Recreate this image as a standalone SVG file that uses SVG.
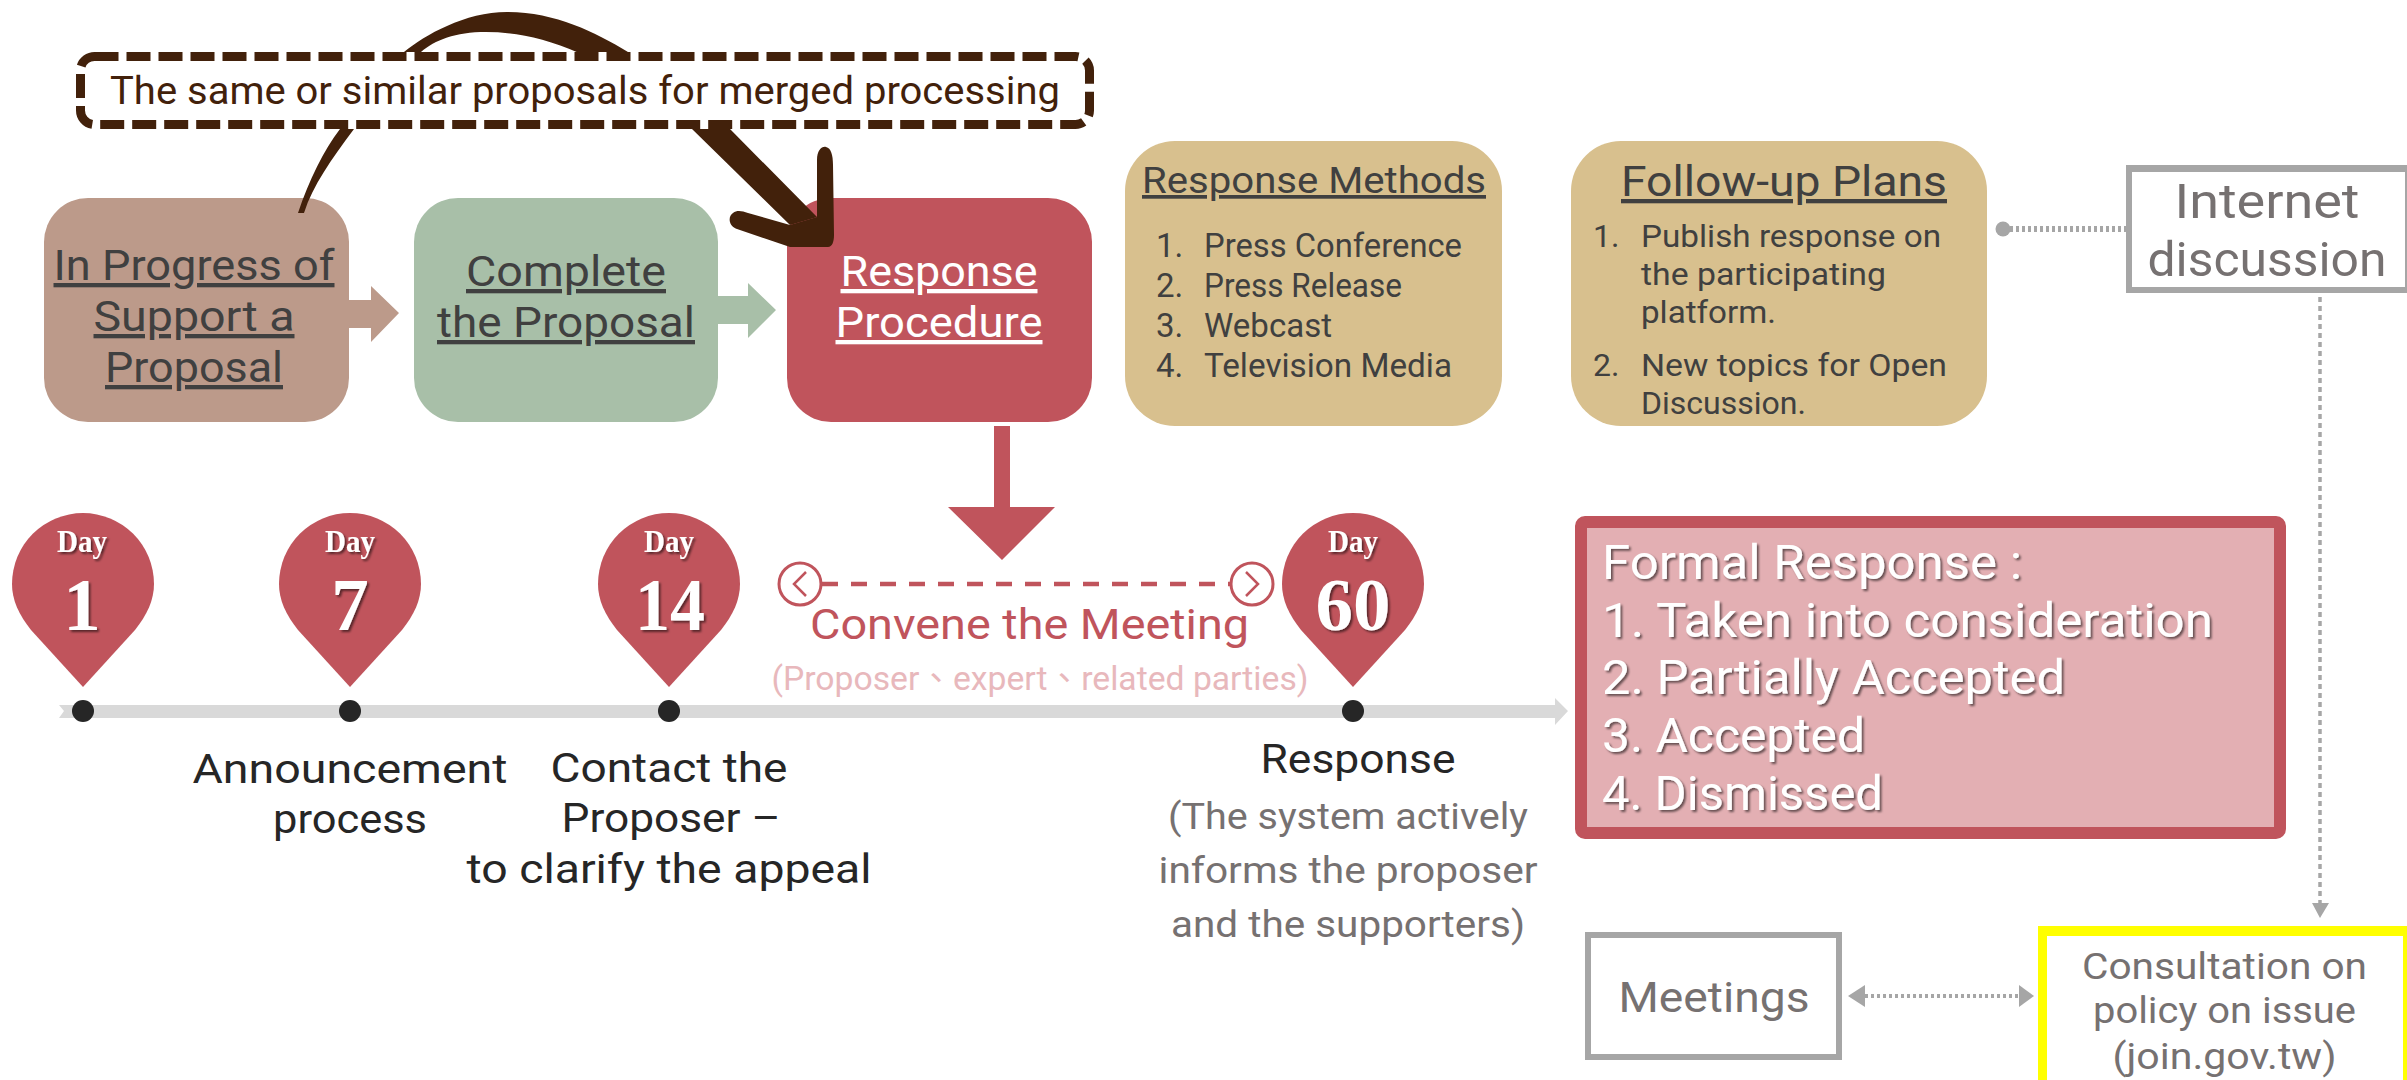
<svg xmlns="http://www.w3.org/2000/svg" width="2407" height="1080" viewBox="0 0 2407 1080">
<style>
text{font-family:Roboto,"Noto Sans CJK TC",sans-serif;}
.c{text-anchor:middle}
.u{text-decoration:underline}
.dk{fill:#404040}
.gr{fill:#767171}
.bk{fill:#262626}
.wh{fill:#fff}
.pin{fill:#c0545c}
.serif{font-family:"Liberation Serif",serif;font-weight:700;fill:#fff;text-anchor:middle;filter:url(#sh)}
.dot{fill:#262626}
.g{fill:#a6a6a6}
.gl{fill:none;stroke:#a6a6a6}
</style>
<defs>
<filter id="sh" x="-20%" y="-20%" width="140%" height="140%"><feDropShadow dx="2" dy="2" stdDeviation="1.2" flood-color="#000" flood-opacity=".55"/></filter>
</defs>
<rect width="2407" height="1080" fill="#fff"/>
<g id="in-progress">
<rect x="44" y="198" width="305" height="224" rx="44" fill="#bc9a8a"/>
<text class="c dk u" x="194" y="280" font-size="43" font-weight="450" textLength="281" lengthAdjust="spacingAndGlyphs">In Progress of</text>
<text class="c dk u" x="194" y="331" font-size="43" font-weight="450" textLength="201" lengthAdjust="spacingAndGlyphs">Support a</text>
<text class="c dk u" x="194" y="382" font-size="43" font-weight="450" textLength="178" lengthAdjust="spacingAndGlyphs">Proposal</text>
</g>
<g id="complete">
<rect x="414" y="198" width="304" height="224" rx="44" fill="#a8bfa8"/>
<text class="c dk u" x="566" y="286" font-size="43" font-weight="450" textLength="200" lengthAdjust="spacingAndGlyphs">Complete</text>
<text class="c dk u" x="566" y="337" font-size="43" font-weight="450" textLength="258" lengthAdjust="spacingAndGlyphs">the Proposal</text>
</g>
<g id="response-procedure">
<rect x="787" y="198" width="305" height="224" rx="44" fill="#c0545c"/>
<text class="c wh u" x="939" y="286" font-size="43" font-weight="450" textLength="197" lengthAdjust="spacingAndGlyphs">Response</text>
<text class="c wh u" x="939" y="337" font-size="43" font-weight="450" textLength="207" lengthAdjust="spacingAndGlyphs">Procedure</text>
</g>
<g id="connectors">
<path d="M298,213C309,180 324,150 340,129L404,52C425,35 465,12 507,12C555,12 595,32 628,52L730,129L817,217L790,225L692,129L579,53C545,38 515,32 486,32C455,32 435,40 421,52L354,129C331,160 313,185 304,213Z" fill="#42210b"/>
<path d="M817,160C817,150 822,146 826,147C831,148 833,155 833,165L834,235C834,242 832,247 828,247L790,247L737,229C728,226 728,216 733,213C737,210 742,211 748,213L790,225L817,217Z" fill="#42210b"/>
<path d="M349,300H371V286L399,313L371,342V328H349Z" fill="#bc9a8a"/>
<path d="M718,296H748V283L776,310L748,338V324H718Z" fill="#a8bfa8"/>
<path d="M994,426H1010V507H1055L1002,560L948,507H994Z" fill="#c0545c"/>
<path d="M59,705H1555V698L1568,711L1555,725V718H59L64,711Z" fill="#d9d9d9"/>
<circle class="g" cx="2003" cy="229" r="7.5"/>
<path class="gl" d="M2010,229H2126" stroke-width="6" stroke-dasharray="3 3"/>
<path class="gl" d="M2320,297V904" stroke-width="3.5" stroke-dasharray="5 4"/>
<path class="g" d="M2312,903H2329L2320,918Z"/>
<path class="g" d="M1848,996L1865,985V1007Z"/>
<path class="g" d="M2034,996L2019,985V1007Z"/>
<path class="gl" d="M1865,996H2019" stroke-width="4" stroke-dasharray="3 3"/>
<path d="M822,584H1231" fill="none" stroke="#c0545c" stroke-width="4.5" stroke-dasharray="16 13"/>
</g>
<g id="merge-note">
<rect x="80.5" y="56.5" width="1009" height="68" rx="14" fill="#fff" stroke="#fff" stroke-width="9"/>
<rect x="80.5" y="56.5" width="1009" height="68" rx="14" fill="none" stroke="#42210b" stroke-width="9" stroke-dasharray="24 8"/>
<text x="585" y="104" class="c" font-size="38" font-weight="450" fill="#42210b" textLength="950" lengthAdjust="spacingAndGlyphs">The same or similar proposals for merged processing</text>
</g>
<g id="response-methods">
<rect x="1125" y="141" width="377" height="285" rx="50" fill="#d8c08e"/>
<text class="dk u" x="1142" y="193" font-size="37" font-weight="450" textLength="344" lengthAdjust="spacingAndGlyphs">Response Methods</text>
<g class="dk" font-size="33">
<text x="1156" y="257">1.</text><text x="1204" y="257" textLength="258" lengthAdjust="spacingAndGlyphs">Press Conference</text>
<text x="1156" y="297">2.</text><text x="1204" y="297" textLength="198" lengthAdjust="spacingAndGlyphs">Press Release</text>
<text x="1156" y="337">3.</text><text x="1204" y="337" textLength="128" lengthAdjust="spacingAndGlyphs">Webcast</text>
<text x="1156" y="377">4.</text><text x="1204" y="377" textLength="248" lengthAdjust="spacingAndGlyphs">Television Media</text>
</g>
</g>
<g id="follow-up">
<rect x="1571" y="141" width="416" height="285" rx="50" fill="#d8c08e"/>
<text class="dk u" x="1621" y="196" font-size="43" font-weight="450" textLength="326" lengthAdjust="spacingAndGlyphs">Follow-up Plans</text>
<g class="dk" font-size="32">
<text x="1593" y="247">1.</text><text x="1641" y="247" textLength="300" lengthAdjust="spacingAndGlyphs">Publish response on</text>
<text x="1641" y="285" textLength="245" lengthAdjust="spacingAndGlyphs">the participating</text>
<text x="1641" y="323" textLength="135" lengthAdjust="spacingAndGlyphs">platform.</text>
<text x="1593" y="376">2.</text><text x="1641" y="376" textLength="306" lengthAdjust="spacingAndGlyphs">New topics for Open</text>
<text x="1641" y="414" textLength="165" lengthAdjust="spacingAndGlyphs">Discussion.</text>
</g>
</g>
<g id="internet-discussion">
<rect x="2126" y="165" width="281" height="128" fill="#a6a6a6"/>
<rect x="2132" y="172" width="273" height="115" fill="#fff"/>
<text class="c gr" x="2267" y="218" font-size="48" font-weight="450" textLength="185" lengthAdjust="spacingAndGlyphs">Internet</text>
<text class="c gr" x="2267" y="276" font-size="48" font-weight="450" textLength="239" lengthAdjust="spacingAndGlyphs">discussion</text>
</g>
<g id="timeline-day1"><path class="pin" d="M83,687L31,630C19,615 12,600 12,584A71,71 0 0 1 154,584C154,600 147,615 135,630Z"/><text class="serif" x="82" y="552" font-size="31" textLength="50" lengthAdjust="spacingAndGlyphs">Day</text><text class="serif" x="82" y="630" font-size="75">1</text><circle class="dot" cx="83" cy="711" r="11"/></g>
<g id="timeline-day7"><path class="pin" d="M350,687L298,630C286,615 279,600 279,584A71,71 0 0 1 421,584C421,600 414,615 402,630Z"/><text class="serif" x="350" y="552" font-size="31" textLength="50" lengthAdjust="spacingAndGlyphs">Day</text><text class="serif" x="350" y="630" font-size="75">7</text><circle class="dot" cx="350" cy="711" r="11"/>
<text class="c bk" x="350" y="783" font-size="41" font-weight="450" textLength="315" lengthAdjust="spacingAndGlyphs">Announcement</text><text class="c bk" x="350" y="833" font-size="41" font-weight="450" textLength="154" lengthAdjust="spacingAndGlyphs">process</text></g>
<g id="timeline-day14"><path class="pin" d="M669,687L617,630C605,615 598,600 598,584A71,71 0 0 1 740,584C740,600 733,615 721,630Z"/><text class="serif" x="669" y="552" font-size="31" textLength="50" lengthAdjust="spacingAndGlyphs">Day</text><text class="serif" x="670" y="630" font-size="75" textLength="70" lengthAdjust="spacingAndGlyphs">14</text><circle class="dot" cx="669" cy="711" r="11"/>
<text class="c bk" x="669" y="782" font-size="41" font-weight="450" textLength="237" lengthAdjust="spacingAndGlyphs">Contact the</text><text class="c bk" x="671" y="832" font-size="41" font-weight="450" textLength="219" lengthAdjust="spacingAndGlyphs">Proposer –</text><text class="c bk" x="669" y="883" font-size="41" font-weight="450" textLength="405" lengthAdjust="spacingAndGlyphs">to clarify the appeal</text></g>
<g id="convene-meeting">
<circle cx="800" cy="584" r="21" fill="#fff" stroke="#c0545c" stroke-width="3"/><path d="M806,572L794,584L806,596" fill="none" stroke="#c0545c" stroke-width="2.5"/>
<circle cx="1252" cy="584" r="21" fill="#fff" stroke="#c0545c" stroke-width="3"/><path d="M1246,572L1258,584L1246,596" fill="none" stroke="#c0545c" stroke-width="2.5"/>
<text class="c" x="1029.5" y="639" font-size="43" font-weight="450" fill="#c0545c" textLength="439" lengthAdjust="spacingAndGlyphs">Convene the Meeting</text>
<text class="c" x="1040" y="690" font-size="33" fill="#e8b8bc" textLength="537" lengthAdjust="spacingAndGlyphs">(Proposer、expert、related parties)</text>
</g>
<g id="timeline-day60"><path class="pin" d="M1353,687L1301,630C1289,615 1282,600 1282,584A71,71 0 0 1 1424,584C1424,600 1417,615 1405,630Z"/><text class="serif" x="1353" y="552" font-size="31" textLength="50" lengthAdjust="spacingAndGlyphs">Day</text><text class="serif" x="1353" y="630" font-size="75">60</text><circle class="dot" cx="1353" cy="711" r="11"/>
<text class="c bk" x="1358" y="773" font-size="41" font-weight="450" textLength="195" lengthAdjust="spacingAndGlyphs">Response</text>
<text class="c gr" x="1348" y="829" font-size="37" font-weight="450" textLength="360" lengthAdjust="spacingAndGlyphs">(The system actively</text>
<text class="c gr" x="1348" y="883" font-size="37" font-weight="450" textLength="379" lengthAdjust="spacingAndGlyphs">informs the proposer</text>
<text class="c gr" x="1348" y="937" font-size="37" font-weight="450" textLength="354" lengthAdjust="spacingAndGlyphs">and the supporters)</text></g>
<g id="formal-response">
<rect x="1581" y="522" width="699" height="311" rx="4" fill="#e3afb3" stroke="#c0545c" stroke-width="12"/>
<g class="wh" font-size="49" font-weight="450" filter="url(#sh)">
<text x="1602" y="579" textLength="420" lengthAdjust="spacingAndGlyphs">Formal Response :</text>
<text x="1602" y="637" textLength="611" lengthAdjust="spacingAndGlyphs">1. Taken into consideration</text>
<text x="1602" y="694" textLength="463" lengthAdjust="spacingAndGlyphs">2. Partially Accepted</text>
<text x="1602" y="752" textLength="263" lengthAdjust="spacingAndGlyphs">3. Accepted</text>
<text x="1602" y="810" textLength="281" lengthAdjust="spacingAndGlyphs">4. Dismissed</text>
</g>
</g>
<g id="meetings">
<rect x="1588" y="935" width="251" height="122" fill="#fff" stroke="#a6a6a6" stroke-width="6"/>
<text class="c gr" x="1714" y="1012" font-size="43" font-weight="450" textLength="191" lengthAdjust="spacingAndGlyphs">Meetings</text>
</g>
<g id="consultation">
<rect x="2038" y="926" width="369" height="154" fill="#ffff00"/>
<rect x="2047" y="936" width="356" height="144" fill="#fff"/>
<text class="c gr" x="2224.5" y="979" font-size="36" font-weight="450" textLength="285" lengthAdjust="spacingAndGlyphs">Consultation on</text>
<text class="c gr" x="2224.5" y="1023" font-size="36" font-weight="450" textLength="263" lengthAdjust="spacingAndGlyphs">policy on issue</text>
<text class="c gr" x="2224.5" y="1069" font-size="36" font-weight="450" textLength="224" lengthAdjust="spacingAndGlyphs">(join.gov.tw)</text>
</g>
</svg>
